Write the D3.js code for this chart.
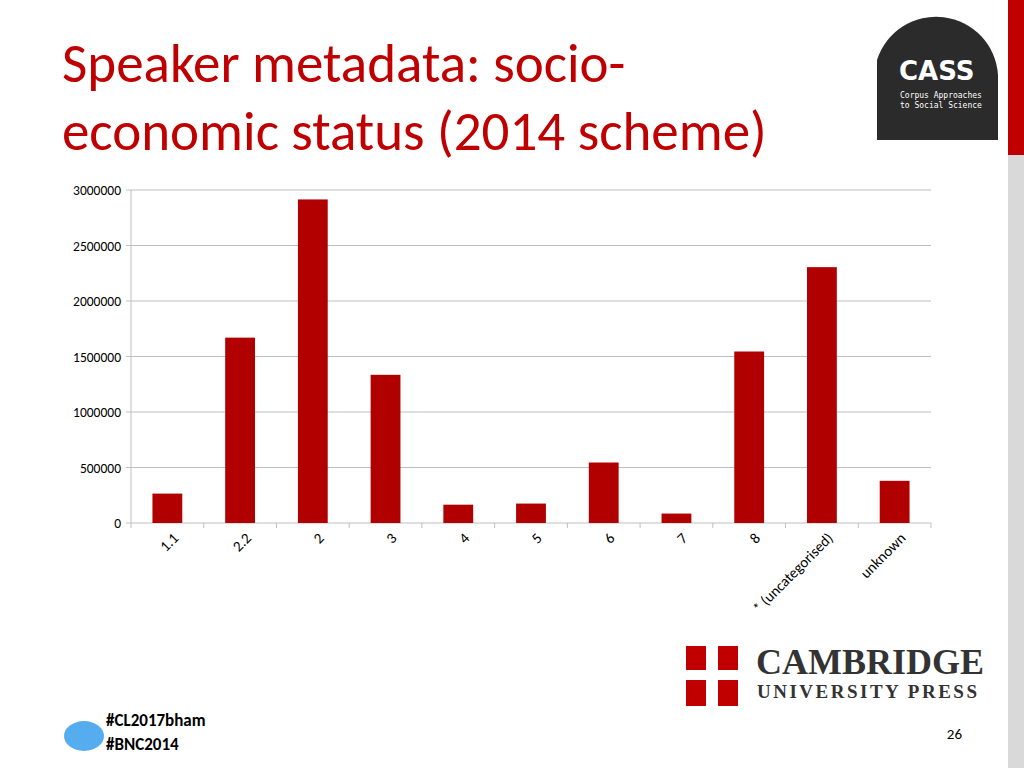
<!DOCTYPE html>
<html><head><meta charset="utf-8">
<script src="https://cdn.jsdelivr.net/npm/d3@7"></script>
<style>body{margin:0;background:#fff}svg{display:block}</style>
</head><body>
<svg id="c" width="1024" height="768"></svg>
<script>
const categories = ["1.1","2.2","2","3","4","5","6","7","8","* (uncategorised)","unknown"];
const values = [265000,1670000,2915000,1335000,165000,175000,545000,85000,1545000,2305000,380000];
const yTicks = [0,500000,1000000,1500000,2000000,2500000,3000000];

const svg = d3.select("#c");
const font = "Calibri, Carlito, 'Liberation Sans', sans-serif";
svg.append("rect").attr("x",1008).attr("y",0).attr("width",16).attr("height",155).attr("fill","#c00000");
svg.append("rect").attr("x",1008).attr("y",155).attr("width",16).attr("height",613).attr("fill","#d9d9d9");
svg.append("text").attr("x",62).attr("y",82).attr("fill","#c00000").attr("font-family",font).attr("font-size",55).text("Speaker metadata: socio-");
svg.append("text").attr("x",62).attr("y",150).attr("fill","#c00000").attr("font-family",font).attr("font-size",55).text("economic status (2014 scheme)");
svg.append("path").attr("d","M877,60 A62,62 0 0 1 998,75 L998,140 L877,140 Z").attr("fill","#2b2b2b");
svg.append("text").attr("x",899).attr("y",80).attr("fill","#fff").attr("font-family","'DejaVu Sans',sans-serif").attr("font-weight","bold").attr("font-size",26).text("CASS");
svg.append("text").attr("x",900).attr("y",98).attr("fill","#fff").attr("font-family","'DejaVu Sans Mono',monospace").attr("font-size",8).text("Corpus Approaches");
svg.append("text").attr("x",900).attr("y",108).attr("fill","#fff").attr("font-family","'DejaVu Sans Mono',monospace").attr("font-size",8).text("to Social Science");

const m = {l:131,r:931,t:190,b:523};
const x = d3.scaleBand().domain(categories).range([m.l,m.r]).paddingInner(0.59).paddingOuter(0.295);
const y = d3.scaleLinear().domain([0,3000000]).range([m.b,m.t]);
const g = svg.append("g");
g.selectAll(".grid").data(yTicks).join("line").attr("x1",m.l).attr("x2",m.r)
 .attr("y1",d=>y(d)).attr("y2",d=>y(d)).attr("stroke","#bfbfbf").attr("stroke-width",1);
g.append("line").attr("x1",m.l).attr("x2",m.l).attr("y1",m.t).attr("y2",m.b).attr("stroke","#bfbfbf");
g.selectAll(".yl").data(yTicks).join("text").attr("x",m.l-10).attr("y",d=>y(d)+5).attr("text-anchor","end")
 .attr("font-family",font).attr("font-size",13.5).attr("fill","#000").text(d=>d);
g.selectAll(".yt").data(yTicks).join("line").attr("x1",m.l-5).attr("x2",m.l).attr("y1",d=>y(d)).attr("y2",d=>y(d)).attr("stroke","#bfbfbf");
g.selectAll(".xt").data(d3.range(categories.length+1)).join("line")
 .attr("x1",i=>m.l+i*(m.r-m.l)/categories.length).attr("x2",i=>m.l+i*(m.r-m.l)/categories.length)
 .attr("y1",m.b).attr("y2",m.b+5).attr("stroke","#bfbfbf");
g.selectAll(".bar").data(values).join("rect").attr("x",(d,i)=>x(categories[i])).attr("width",x.bandwidth())
 .attr("y",d=>y(d)).attr("height",d=>m.b-y(d)).attr("fill","#b00000");
g.selectAll(".xl").data(categories).join("text")
 .attr("transform",d=>`translate(${x(d)+x.bandwidth()/2+12},${m.b+16}) rotate(-45)`)
 .attr("text-anchor","end").attr("font-family",font).attr("font-size",15).text(d=>d);

svg.append("rect").attr("x",686).attr("y",646).attr("width",52).attr("height",60).attr("fill","#c00000");
svg.append("rect").attr("x",706).attr("y",646).attr("width",12).attr("height",60).attr("fill","#fff");
svg.append("rect").attr("x",686).attr("y",670).attr("width",52).attr("height",10).attr("fill","#fff");
svg.append("text").attr("x",756).attr("y",674).attr("font-family","'Liberation Serif',serif").attr("font-size",36).attr("font-weight","bold").attr("fill","#333").text("CAMBRIDGE");
svg.append("text").attr("x",757).attr("y",698).attr("font-family","'Liberation Serif',serif").attr("font-size",19).attr("font-weight","bold").attr("fill","#333").attr("letter-spacing",2.5).text("UNIVERSITY PRESS");
svg.append("ellipse").attr("cx",84).attr("cy",736).attr("rx",20).attr("ry",15).attr("fill","#55acee");
svg.append("text").attr("x",106).attr("y",726).attr("font-family",font).attr("font-weight","bold").attr("font-size",17).text("#CL2017bham");
svg.append("text").attr("x",106).attr("y",750).attr("font-family",font).attr("font-weight","bold").attr("font-size",17).text("#BNC2014");
svg.append("text").attr("x",962).attr("y",739).attr("text-anchor","end").attr("font-family",font).attr("font-size",15).text("26");
</script>
</body></html>
